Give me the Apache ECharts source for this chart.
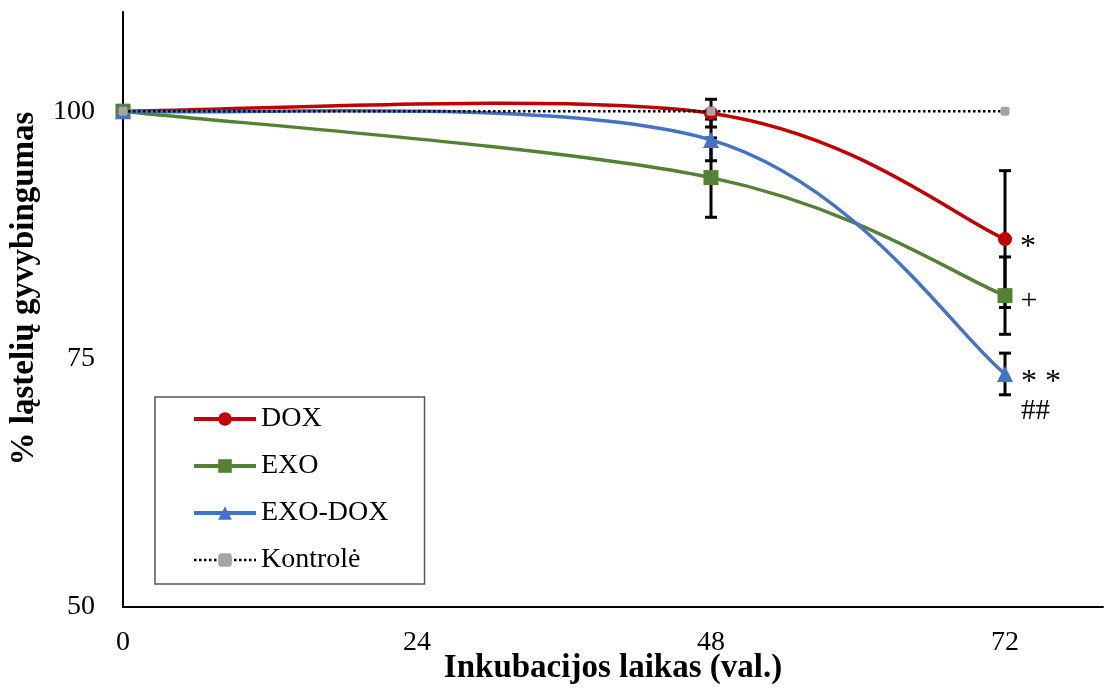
<!DOCTYPE html>
<html>
<head>
<meta charset="utf-8">
<script src="https://cdn.jsdelivr.net/npm/echarts@6/dist/echarts.min.js"></script>
<style>html,body{margin:0;padding:0;background:#fff}#c{width:1105px;height:689px}</style>
</head>
<body>
<div id="c"></div>
<script>
const hours = [0, 48, 72];
const seriesNames = ['DOX', 'EXO', 'EXO-DOX', 'Kontrolė'];
const dox = [100, 99.8, 87.1];
const doxErr = [0, 1.4, 6.9];
const exo = [100, 93.3, 81.4];
const exoErr = [0, 4.0, 3.9];
const exoDox = [100, 97.1, 73.5];
const exoDoxErr = [0, 2.1, 2.1];
const kontrole = [100, 100, 100];
const doxMarks = ['', '', '*'];
const exoMarks = ['', '', '+'];
const exoDoxMarks = ['', '', '* *\n##'];
const xTicks = [0, 24, 48, 72];
const yTicks = [50, 75, 100];

const FONT = 'Liberation Serif';
const colors = ['#C00000', '#548235', '#4472C4', '#A5A5A5'];

function pts(vals, marks, labelExtra) {
  return hours.map((h, i) => {
    const item = { value: [h, vals[i]] };
    if (marks && marks[i]) {
      item.label = Object.assign({ show: true, formatter: marks[i] }, labelExtra || {});
    }
    return item;
  });
}
function errSeries(vals, errs) {
  const data = [];
  hours.forEach((h, i) => { if (errs[i] > 0) data.push([h, vals[i] - errs[i], vals[i] + errs[i]]); });
  return {
    type: 'custom', z: 1, silent: true, data: data,
    renderItem: function (params, api) {
      const x = api.value(0);
      const lo = api.coord([x, api.value(1)]);
      const hi = api.coord([x, api.value(2)]);
      const w = 6;
      const st = { stroke: '#000', lineWidth: 3 };
      return {
        type: 'group',
        children: [
          { type: 'line', shape: { x1: lo[0], y1: lo[1], x2: hi[0], y2: hi[1] }, style: st },
          { type: 'line', shape: { x1: lo[0] - w, y1: lo[1], x2: lo[0] + w, y2: lo[1] }, style: st },
          { type: 'line', shape: { x1: hi[0] - w, y1: hi[1], x2: hi[0] + w, y2: hi[1] }, style: st }
        ]
      };
    }
  };
}
// Excel-style smoothed curve (Catmull-Rom as cubic Bezier, tension 1/6)
function curveSeries(vals, color) {
  const n = hours.length;
  return {
    type: 'custom', z: 2, silent: true,
    data: hours.map((h, i) => [h, vals[i]]),
    renderItem: function (params, api) {
      const i = params.dataIndex;
      if (i >= n - 1) return null;
      const P = k => { const j = Math.max(0, Math.min(n - 1, k)); return api.coord([hours[j], vals[j]]); };
      const p0 = P(i - 1), p1 = P(i), p2 = P(i + 1), p3 = P(i + 2);
      const c1 = [p1[0] + (p2[0] - p0[0]) / 6, p1[1] + (p2[1] - p0[1]) / 6];
      const c2 = [p2[0] - (p3[0] - p1[0]) / 6, p2[1] - (p3[1] - p1[1]) / 6];
      return {
        type: 'bezierCurve',
        shape: { x1: p1[0], y1: p1[1], x2: p2[0], y2: p2[1], cpx1: c1[0], cpy1: c1[1], cpx2: c2[0], cpy2: c2[1] },
        style: { stroke: color, lineWidth: 3.5, fill: 'none', lineCap: 'round' }
      };
    }
  };
}
const markLabel = {
  position: 'right', distance: 8, color: '#000', fontFamily: FONT, fontSize: 32, lineHeight: 28, align: 'left'
};
function markerSeries(idx, symbol, size, vals, marks, labelExtra) {
  return {
    name: seriesNames[idx], type: 'line', z: 3,
    symbol: symbol, symbolSize: size,
    itemStyle: { color: colors[idx] },
    lineStyle: { color: colors[idx], width: 0, opacity: 0 },
    label: markLabel,
    data: pts(vals, marks, labelExtra)
  };
}

const chart = echarts.init(document.getElementById('c'));
chart.setOption({
  animation: false,
  backgroundColor: '#fff',
  grid: { left: 123, top: 12, right: 2, bottom: 82, containLabel: false, outerBoundsMode: 'none' },
  xAxis: {
    type: 'value', min: 0, max: 80, interval: 24,
    name: 'Inkubacijos laikas (val.)', nameLocation: 'middle', nameGap: 45, nameMoveOverlap: false,
    nameTextStyle: { fontFamily: FONT, fontSize: 33, fontWeight: 'bold', color: '#000' },
    axisLine: { lineStyle: { color: '#000', width: 2 } },
    axisTick: { show: false },
    splitLine: { show: false },
    axisLabel: {
      showMaxLabel: false, margin: 22, fontFamily: FONT, fontSize: 28, color: '#000',
      formatter: v => xTicks.includes(v) ? String(v) : ''
    }
  },
  yAxis: {
    type: 'value', min: 50, max: 110, interval: 25,
    name: '% ląstelių gyvybingumas', nameLocation: 'middle', nameGap: 82, nameMoveOverlap: false,
    nameTextStyle: { fontFamily: FONT, fontSize: 33, fontWeight: 'bold', color: '#000', padding: [0, 0, 0, 42] },
    axisLine: { show: true, lineStyle: { color: '#000', width: 2 } },
    axisTick: { show: false },
    splitLine: { show: false },
    axisLabel: {
      showMaxLabel: false, margin: 28, fontFamily: FONT, fontSize: 28, color: '#000',
      formatter: v => yTicks.includes(v) ? String(v) : ''
    }
  },
  legend: {
    orient: 'vertical', left: 155, top: 397,
    padding: [7, 36, 9, 37],
    itemWidth: 62, itemHeight: 17, itemGap: 17,
    backgroundColor: '#fff', borderColor: '#555', borderWidth: 1.5, borderRadius: 0,
    textStyle: { fontFamily: FONT, fontSize: 28, color: '#000', lineHeight: 30 },
    data: [
      { name: seriesNames[0], lineStyle: { color: colors[0], width: 4, opacity: 1, type: 'solid' } },
      { name: seriesNames[1], lineStyle: { color: colors[1], width: 4, opacity: 1, type: 'solid' } },
      { name: seriesNames[2], lineStyle: { color: colors[2], width: 4, opacity: 1, type: 'solid' } },
      { name: seriesNames[3], lineStyle: { color: '#000', width: 2.5, opacity: 1, type: 'dotted' } }
    ]
  },
  series: [
    errSeries(dox, doxErr),
    errSeries(exo, exoErr),
    errSeries(exoDox, exoDoxErr),
    curveSeries(dox, colors[0]),
    curveSeries(exo, colors[1]),
    curveSeries(exoDox, colors[2]),
    markerSeries(0, 'circle', 14, dox, doxMarks, { offset: [0, 9] }),
    markerSeries(1, 'rect', 15, exo, exoMarks, { offset: [0, 6], fontSize: 30 }),
    markerSeries(2, 'triangle', 16, exoDox, exoDoxMarks, {
      offset: [0, 22],
      formatter: '{a|* *}\n{b|##}',
      rich: { a: { fontFamily: FONT, fontSize: 32, lineHeight: 30, color: '#000' }, b: { fontFamily: FONT, fontSize: 29, lineHeight: 26, color: '#000' } }
    }),
    {
      name: seriesNames[3], type: 'line', z: 4,
      symbol: 'roundRect', symbolSize: 9,
      itemStyle: { color: colors[3] },
      lineStyle: { color: '#000', width: 2.5, type: 'dotted' },
      data: pts(kontrole)
    }
  ]
});
</script>
</body>
</html>
